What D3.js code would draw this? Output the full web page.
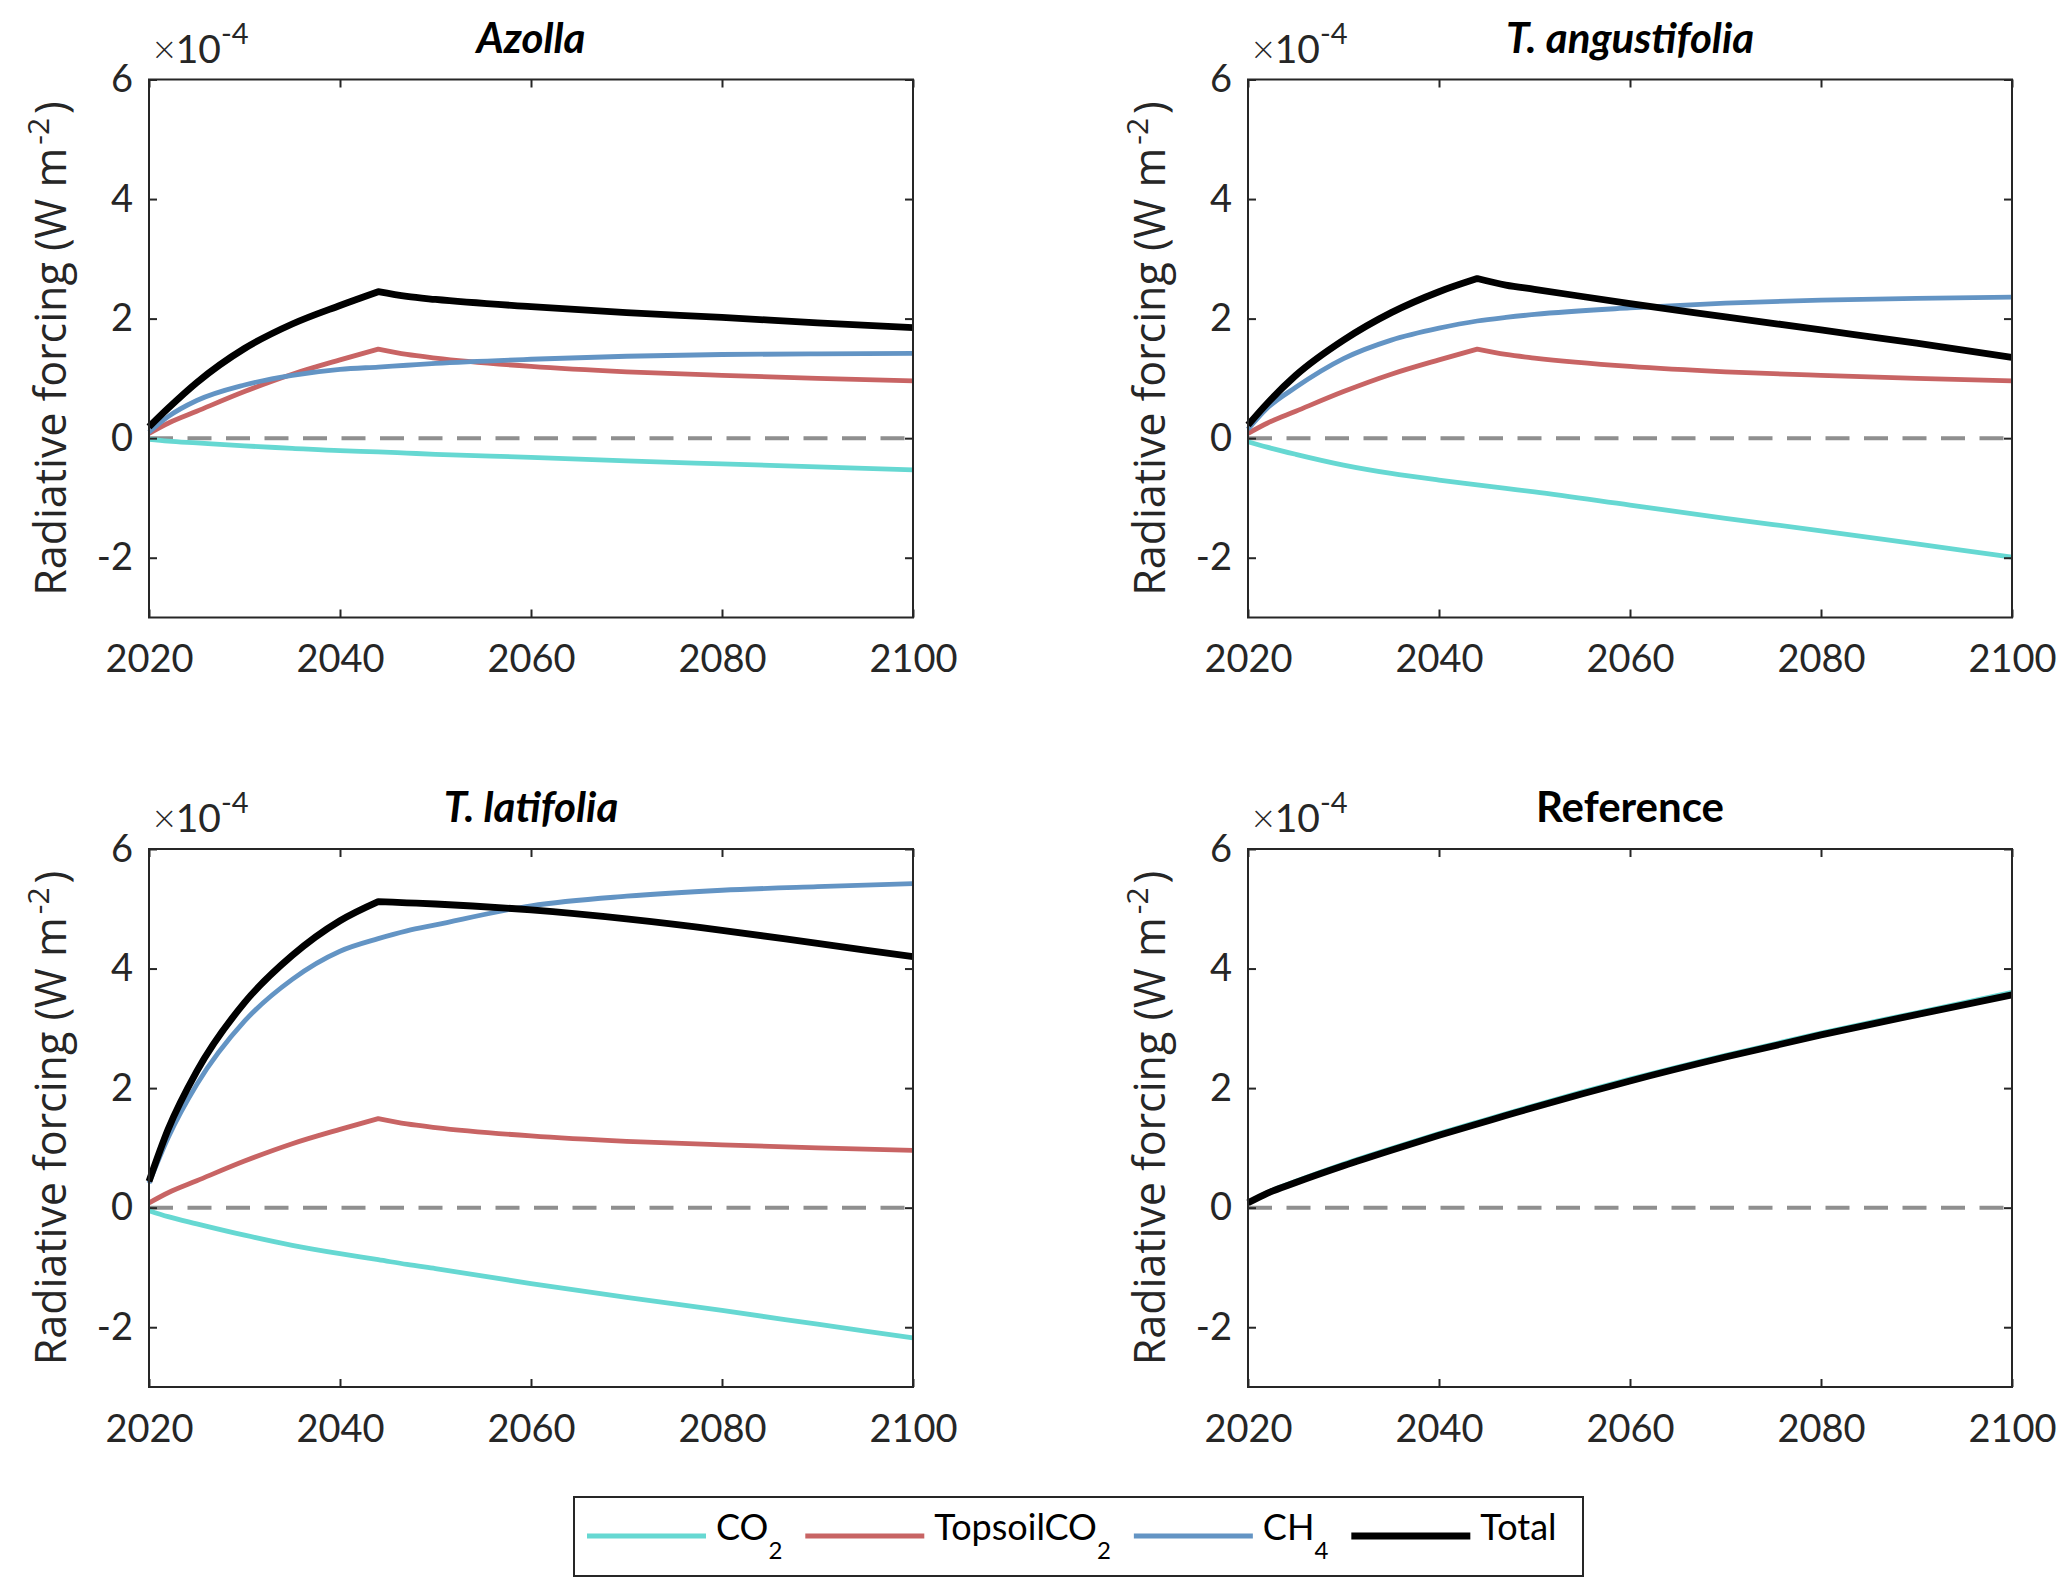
<!DOCTYPE html>
<html>
<head>
<meta charset="utf-8">
<script src="https://cdn.jsdelivr.net/npm/d3@7"></script>
<style>
  body { margin: 0; background: #fff; }
</style>
</head>
<body>
<svg id="chart"></svg>
<script>
// years (values are in units of 1e-4 W m-2)
const years = [2020, 2022, 2025, 2030, 2035, 2040, 2044, 2047, 2050, 2060, 2070, 2080, 2090, 2100];
const peakYear = 2044;

const topsoilCO2 = [0.08, 0.25, 0.45, 0.78, 1.07, 1.31, 1.49, 1.40, 1.34, 1.20, 1.11, 1.05, 1.00, 0.96];

const azollaCO2   = [-0.02, -0.05, -0.08, -0.13, -0.17, -0.21, -0.23, -0.25, -0.27, -0.32, -0.38, -0.43, -0.48, -0.53];
const azollaCH4   = [0.10, 0.36, 0.63, 0.89, 1.05, 1.15, 1.19, 1.22, 1.25, 1.32, 1.37, 1.40, 1.41, 1.42];
const azollaTotal = [0.19, 0.50, 0.93, 1.50, 1.91, 2.22, 2.45, 2.37, 2.32, 2.20, 2.10, 2.02, 1.93, 1.85];

const angustCO2   = [-0.06, -0.15, -0.27, -0.45, -0.59, -0.70, -0.78, -0.84, -0.90, -1.12, -1.34, -1.55, -1.77, -1.99];
const angustCH4   = [0.15, 0.50, 0.85, 1.33, 1.64, 1.84, 1.96, 2.02, 2.07, 2.18, 2.26, 2.31, 2.34, 2.36];
const angustTotal = [0.22, 0.58, 1.05, 1.64, 2.10, 2.45, 2.67, 2.56, 2.49, 2.25, 2.03, 1.81, 1.59, 1.35];

const latiCO2   = [-0.05, -0.15, -0.27, -0.46, -0.63, -0.77, -0.87, -0.95, -1.02, -1.27, -1.50, -1.72, -1.95, -2.18];
const latiCH4   = [0.41, 1.17, 2.06, 3.12, 3.82, 4.29, 4.50, 4.63, 4.73, 5.05, 5.21, 5.31, 5.37, 5.42];
const latiTotal = [0.44, 1.31, 2.28, 3.43, 4.22, 4.80, 5.12, 5.10, 5.08, 4.98, 4.83, 4.64, 4.42, 4.20];

const referenceCO2   = [0.08, 0.25, 0.44, 0.73, 0.99, 1.24, 1.43, 1.57, 1.71, 2.15, 2.55, 2.92, 3.26, 3.60];
const referenceTotal = [0.08, 0.24, 0.42, 0.70, 0.96, 1.21, 1.40, 1.54, 1.68, 2.12, 2.52, 2.89, 3.23, 3.56];

const xTicks = [2020, 2040, 2060, 2080, 2100];
const yTicks = [-2, 0, 2, 4, 6];
const legendItems = [
  { key: "CO2", text: "CO", sub: "2" },
  { key: "TopsoilCO2", text: "TopsoilCO", sub: "2" },
  { key: "CH4", text: "CH", sub: "4" },
  { key: "Total", text: "Total", sub: "" }
];

const colors = { CO2: "#66d8d2", TopsoilCO2: "#c86464", CH4: "#6394c4", Total: "#000000" };
const widths = { CO2: 4.8, TopsoilCO2: 4.8, CH4: 4.8, Total: 6.8 };
// only these have a corner at the peak year
const cornered = { TopsoilCO2: true, Total: true };

const panels = [
  { title: "Azolla", italic: true, col: 0, row: 0,
    series: { CO2: azollaCO2, TopsoilCO2: topsoilCO2, CH4: azollaCH4, Total: azollaTotal } },
  { title: "T. angustifolia", italic: true, col: 1, row: 0,
    series: { CO2: angustCO2, TopsoilCO2: topsoilCO2, CH4: angustCH4, Total: angustTotal } },
  { title: "T. latifolia", italic: true, col: 0, row: 1,
    series: { CO2: latiCO2, TopsoilCO2: topsoilCO2, CH4: latiCH4, Total: latiTotal } },
  { title: "Reference", italic: false, col: 1, row: 1,
    series: { CO2: referenceCO2, Total: referenceTotal } }
];

const width = 2067, height = 1593;
const plotW = 764, plotH = 538;
const lefts = [149, 1248];
const tops = [79.5, 849];
const axisColor = "#262626";
const tickFont = "Lato, 'Open Sans', sans-serif";

const svg = d3.select("#chart").attr("width", width).attr("height", height);
svg.append("rect").attr("width", width).attr("height", height).attr("fill", "#fff");

panels.forEach(p => {
  const g = svg.append("g")
    .attr("transform", `translate(${lefts[p.col]},${tops[p.row]})`);

  const x = d3.scaleLinear().domain([2020, 2100]).range([0, plotW]);
  const y = d3.scaleLinear().domain([-3, 6]).range([plotH, 0]);

  // zero line
  g.append("line")
    .attr("x1", x(2020)).attr("x2", x(2100))
    .attr("y1", y(0)).attr("y2", y(0))
    .attr("stroke", "#8f8f8f")
    .attr("stroke-width", 4)
    .attr("stroke-dasharray", "24,14.5");

  const line = d3.line()
    .x(d => x(d[0]))
    .y(d => y(d[1]))
    .curve(d3.curveMonotoneX);

  Object.keys(p.series).forEach(key => {
    const pts = years.map((yr, i) => [yr, p.series[key][i]]);
    let path;
    if (cornered[key]) {
      const before = pts.filter(d => d[0] <= peakYear);
      const after = pts.filter(d => d[0] >= peakYear);
      path = line(before) + line(after).replace(/^M/, "L");
    } else {
      path = line(pts);
    }
    g.append("path")
      .attr("d", path)
      .attr("fill", "none")
      .attr("stroke", colors[key])
      .attr("stroke-width", widths[key])
      .attr("stroke-linejoin", "round");
  });

  // axes with inward ticks on all four sides
  const bottom = g.append("g")
    .attr("transform", `translate(0,${plotH})`)
    .call(d3.axisBottom(x).tickValues(xTicks).tickFormat(d => String(d))
      .tickSize(-8).tickPadding(28));
  const left = g.append("g")
    .call(d3.axisLeft(y).tickValues(yTicks).tickFormat(d => String(d))
      .tickSize(-8).tickPadding(16));
  const top = g.append("g")
    .call(d3.axisTop(x).tickValues(xTicks).tickFormat("").tickSize(-8));
  const right = g.append("g")
    .attr("transform", `translate(${plotW},0)`)
    .call(d3.axisRight(y).tickValues(yTicks).tickFormat("").tickSize(-8));

  [bottom, left, top, right].forEach(a => {
    a.select(".domain").remove();
    a.selectAll("line").attr("stroke", axisColor).attr("stroke-width", 2);
    a.selectAll("text")
      .attr("fill", axisColor)
      .style("font-family", tickFont)
      .style("font-size", "38px");
  });

  g.append("rect")
    .attr("width", plotW).attr("height", plotH)
    .attr("fill", "none")
    .attr("stroke", axisColor)
    .attr("stroke-width", 2);

  // exponent label
  const expo = g.append("text")
    .attr("x", 4).attr("y", -17)
    .attr("fill", axisColor)
    .style("font-family", tickFont)
    .style("font-size", "39px");
  expo.append("tspan").style("font-weight", 300).text("\u00d7");
  expo.append("tspan").text("10");
  expo.append("tspan").attr("dy", -19).style("font-size", "29px").text("-4");

  // title
  g.append("text")
    .attr("x", plotW / 2).attr("y", -27)
    .attr("text-anchor", "middle")
    .attr("fill", "#000")
    .style("font-family", tickFont)
    .style("font-weight", "bold")
    .style("font-style", p.italic ? "italic" : "normal")
    .style("font-size", "42px")
    .text(p.title);

  // y label
  const yl = g.append("text")
    .attr("transform", `translate(-83,${plotH / 2}) rotate(-90)`)
    .attr("text-anchor", "middle")
    .attr("fill", axisColor)
    .style("font-family", "'Open Sans', sans-serif")
    .style("font-size", "43px");
  yl.append("tspan").text("Radiative forcing (W m");
  yl.append("tspan").attr("dx", 3).attr("dy", -17).style("font-size", "30px").text("-2");
  yl.append("tspan").attr("dx", 4).attr("dy", 17).text(")");
});

// legend
const legend = svg.append("g");
legend.append("rect")
  .attr("x", 574).attr("y", 1497)
  .attr("width", 1009).attr("height", 79)
  .attr("fill", "#fff")
  .attr("stroke", axisColor)
  .attr("stroke-width", 2);

let lx = 587;
const ly = 1536;
legendItems.forEach(item => {
  legend.append("line")
    .attr("x1", lx).attr("x2", lx + 119)
    .attr("y1", ly).attr("y2", ly)
    .attr("stroke", colors[item.key])
    .attr("stroke-width", item.key === "Total" ? 7 : 5);
  const t = legend.append("text")
    .attr("x", lx + 129).attr("y", ly + 4)
    .attr("fill", "#000")
    .style("font-family", tickFont)
    .style("font-size", "36px");
  t.append("tspan").text(item.text);
  if (item.sub) {
    t.append("tspan").attr("dy", 19).style("font-size", "24px").text(item.sub);
  }
  lx += 129 + t.node().getComputedTextLength() + 23;
});
</script>
</body>
</html>
